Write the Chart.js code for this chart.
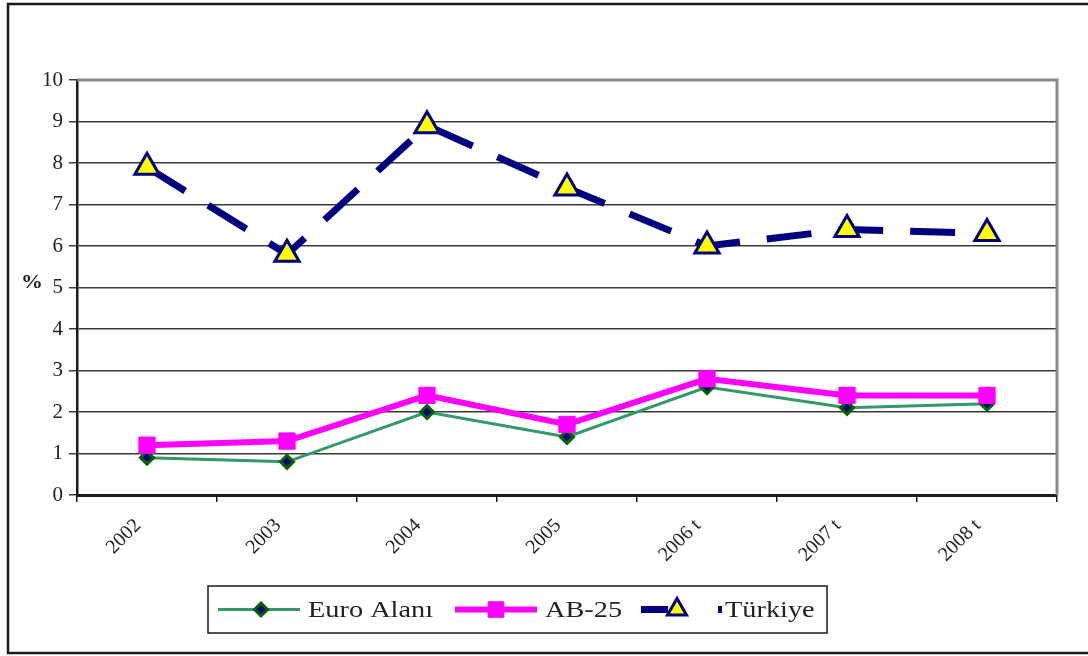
<!DOCTYPE html>
<html>
<head>
<meta charset="utf-8">
<script src="https://cdn.jsdelivr.net/npm/chart.js@4/dist/chart.umd.min.js"></script>
<style>
  html, body { margin: 0; padding: 0; background: #fff; }
  canvas { display: block; }
</style>
</head>
<body>
<canvas id="c" width="1088" height="656"></canvas>
<script>
// Annual rates (%) by year; "t" marks forecast years
const years = ['2002', '2003', '2004', '2005', '2006 t', '2007 t', '2008 t'];
const euroAlani = [0.9, 0.8, 2.0, 1.4, 2.6, 2.1, 2.2];
const ab25 = [1.2, 1.3, 2.4, 1.7, 2.8, 2.4, 2.4];
const turkiye = [7.9, 5.8, 8.9, 7.4, 6.0, 6.4, 6.3];
const yMin = 0, yMax = 10, yStep = 1;

const SERIF = '"Liberation Serif", "Times New Roman", serif';

// Draws text slightly widened horizontally
function wideText(ctx, text, x, y, font, sx) {
  ctx.save();
  ctx.font = font;
  ctx.textAlign = 'left';
  ctx.textBaseline = 'middle';
  ctx.translate(x, y);
  ctx.scale(sx, 1);
  ctx.fillText(text, 0, 0);
  ctx.restore();
}

// Outer frame, plot border, "%" axis label and the boxed legend
const decor = {
  id: 'decor',
  beforeDraw(chart) {
    const ctx = chart.ctx;
    ctx.save();
    ctx.fillStyle = '#fff';
    ctx.fillRect(0, 0, chart.width, chart.height);
    ctx.strokeStyle = '#1a1a1a';
    ctx.lineWidth = 2.5;
    ctx.strokeRect(8, 4, chart.width + 10, chart.height - 7);
    ctx.restore();
  },
  afterDatasetsDraw(chart) {
    const ctx = chart.ctx;
    const a = chart.chartArea;
    ctx.save();
    // right and top edge of the plot area
    ctx.strokeStyle = '#8a8a8a';
    ctx.lineWidth = 3;
    ctx.beginPath();
    ctx.moveTo(a.left, a.top);
    ctx.lineTo(a.right, a.top);
    ctx.lineTo(a.right, a.bottom);
    ctx.stroke();
    ctx.restore();
  },
  afterDraw(chart) {
    const ctx = chart.ctx;
    const y = chart.scales.y;
    ctx.save();
    ctx.fillStyle = '#222';
    wideText(ctx, '%', 21, y.getPixelForValue(5) - 4, 'bold 19px ' + SERIF, 1.15);

    // legend box
    const box = { x: 208, y: 586, w: 619, h: 47 };
    ctx.fillStyle = '#fff';
    ctx.fillRect(box.x, box.y, box.w, box.h);
    ctx.strokeStyle = '#1a1a1a';
    ctx.lineWidth = 1.5;
    ctx.strokeRect(box.x, box.y, box.w, box.h);

    const items = [
      { x0: 218, x1: 300, mx: 261, tx: 308, dash: [] },
      { x0: 455, x1: 537, mx: 496, tx: 545, dash: [] },
      { x0: 641, x1: 722, mx: 677, tx: 725, dash: [27, 50] }
    ];
    const cy = box.y + box.h / 2;
    chart.data.datasets.forEach((ds, i) => {
      const it = items[i];
      ctx.save();
      ctx.strokeStyle = ds.borderColor;
      ctx.lineWidth = ds.borderWidth;
      ctx.setLineDash(it.dash);
      ctx.beginPath();
      ctx.moveTo(it.x0, cy);
      ctx.lineTo(it.x1, cy);
      ctx.stroke();
      ctx.setLineDash([]);
      ctx.fillStyle = ds.pointBackgroundColor;
      ctx.strokeStyle = ds.pointBorderColor;
      ctx.lineWidth = ds.pointBorderWidth;
      Chart.helpers.drawPoint(ctx, {
        pointStyle: ds.pointStyle,
        radius: ds.legendRadius,
        rotation: 0,
        borderWidth: ds.pointBorderWidth
      }, it.mx, cy);
      ctx.restore();
      ctx.fillStyle = '#222';
      wideText(ctx, ds.label, it.tx, cy + 1, '24px ' + SERIF, 1.18);
    });
    ctx.restore();
  }
};

new Chart(document.getElementById('c'), {
  type: 'line',
  data: {
    labels: years,
    datasets: [
      {
        label: 'Euro Alanı',
        data: euroAlani,
        borderColor: '#339966',
        borderWidth: 3,
        pointStyle: 'rectRot',
        pointRadius: 6.5,
        legendRadius: 6.5,
        pointBackgroundColor: '#000080',
        pointBorderColor: '#006400',
        pointBorderWidth: 3,
        tension: 0,
        order: 3
      },
      {
        label: 'AB-25',
        data: ab25,
        borderColor: '#ff00ff',
        borderWidth: 6,
        pointStyle: 'rect',
        pointRadius: 11.5,
        legendRadius: 11,
        pointBackgroundColor: '#ff00ff',
        pointBorderColor: '#ff00ff',
        pointBorderWidth: 1,
        tension: 0,
        order: 2
      },
      {
        label: 'Türkiye',
        data: turkiye,
        borderColor: '#000080',
        borderWidth: 7,
        borderDash: [45, 27],
        borderCapStyle: 'butt',
        pointStyle: 'triangle',
        pointRadius: 14,
        legendRadius: 11,
        pointBackgroundColor: '#ffff00',
        pointBorderColor: '#000080',
        pointBorderWidth: 3,
        tension: 0,
        order: 1
      }
    ]
  },
  options: {
    responsive: false,
    animation: false,
    events: [],
    layout: { padding: { left: 0, top: 80, right: 31, bottom: 0 } },
    plugins: { legend: { display: false }, tooltip: { enabled: false } },
    scales: {
      x: {
        offset: true,
        afterFit(scale) { scale.height = 161; },
        grid: {
          offset: true,
          drawOnChartArea: false,
          drawTicks: true,
          tickLength: 7,
          color: '#1a1a1a',
          lineWidth: 1.5
        },
        border: { display: true, color: '#1a1a1a', width: 3 },
        ticks: {
          color: '#222',
          font: { family: SERIF, size: 20 },
          minRotation: 45,
          maxRotation: 45,
          padding: 12,
          labelOffset: -9,
          autoSkip: false
        }
      },
      y: {
        min: yMin,
        max: yMax,
        afterFit(scale) { scale.width = 77; },
        grid: {
          color: (c) => c.tick && c.tick.value === yMax ? '#8a8a8a' : '#3a3a3a',
          lineWidth: 1.5,
          drawTicks: true,
          tickLength: 8,
          tickColor: '#3a3a3a'
        },
        border: { display: true, color: '#1a1a1a', width: 2.5 },
        ticks: {
          stepSize: yStep,
          color: '#222',
          font: { family: SERIF, size: 21 },
          padding: 6
        }
      }
    }
  },
  plugins: [decor]
});
</script>
</body>
</html>
